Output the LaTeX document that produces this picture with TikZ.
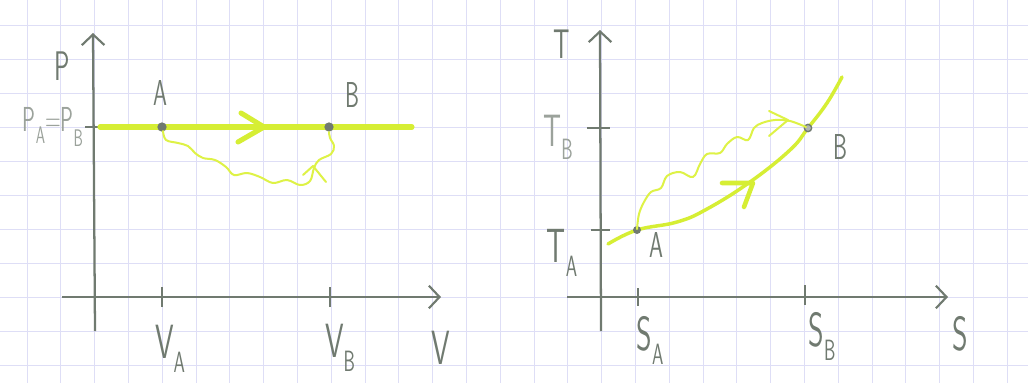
\documentclass[tikz,border=0pt]{standalone}
\usepackage{fontspec}
\usetikzlibrary{arrows.meta}
\definecolor{pencil}{RGB}{112,122,112}
\definecolor{pencillt}{RGB}{155,162,155}
\definecolor{hl}{RGB}{214,238,52}
\definecolor{hlw}{RGB}{222,242,70}
\definecolor{gridc}{RGB}{222,222,246}
\newcommand{\hw}[1]{\scalebox{0.62}[1]{#1}}
\newcommand{\hsub}[1]{\raisebox{-0.3em}{\fontsize{22}{22}\selectfont #1}}
\tikzset{
  gridline/.style={draw=gridc, line width=0.7pt},
  axisline/.style={draw=pencil, line width=1.7pt, -{Straight Barb[length=8pt,width=17pt,line width=1.6pt]}},
  tickline/.style={draw=pencil, line width=1.6pt},
  hlline/.style={draw=hl, line width=3.8pt, line cap=round, line join=round},
  hlcurve/.style={draw=hl, line width=2.6pt, line cap=round, line join=round},
  wavy/.style={draw=hlw, line width=1.5pt, line cap=round, line join=round},
  dotnode/.style={circle, fill=pencil, inner sep=0pt, minimum size=7pt},
  ringnode/.style={circle, draw=pencil, fill=pencil!55, line width=1pt, inner sep=0pt, minimum size=5.5pt},
  biglbl/.style={text=pencil, font=\sffamily\fontsize{36}{36}\selectfont, inner sep=0pt, anchor=base},
  midlbl/.style={text=pencil, font=\sffamily\fontsize{31}{31}\selectfont, inner sep=0pt, anchor=base},
  smalllbl/.style={text=pencil, font=\sffamily\fontsize{27}{27}\selectfont, inner sep=0pt, anchor=base},
  ltlbl/.style={text=pencillt, font=\sffamily\fontsize{26}{26}\selectfont, inner sep=0pt, anchor=base},
  ltbiglbl/.style={text=pencillt, font=\sffamily\fontsize{34}{34}\selectfont, inner sep=0pt, anchor=base},
}
\begin{document}
\begin{tikzpicture}[x=0.75pt,y=-0.75pt]
\useasboundingbox (0,0) rectangle (1028,383);
\fill[white] (0,0) rectangle (1028,383);
% squared paper
\foreach \i in {0,...,29} \draw[gridline] ({27+33.8*\i},0) -- ({27+33.8*\i},383);
\foreach \j in {0,...,10} \draw[gridline] (0,{25+34*\j}) -- (1028,{25+34*\j});

% ================= left: P-V diagram =================
\coordinate (Pbot) at (95,331);
\coordinate (Ptip) at (93,33);
\coordinate (Vstart) at (62,297);
\coordinate (Vtip) at (441,297);
\draw[axisline] (Pbot) -- (Ptip);
\draw[axisline] (Vstart) -- (Vtip);
\coordinate (VAt) at (162,297);
\coordinate (VBt) at (330,297);
\coordinate (Pt) at (95,127);
\draw[tickline] (VAt) ++(0,-10) -- ++(0,20);
\draw[tickline] (VBt) ++(0,-10) -- ++(0,20);
\draw[tickline] (Pt) ++(-10,0) -- ++(15,0);

% isobaric line
\coordinate (L1) at (100,127);
\coordinate (L2) at (412,127);
\draw[hlline] (L1) -- (L2);
\coordinate (chevL) at (264,127);
\draw[hlline] (chevL) ++(-23,-14) -- (chevL) -- ++(-26,15);

% irreversible path
\node[dotnode] (A1) at (162,127) {};
\node[dotnode] (B1) at (329,127) {};
\draw[wavy] plot[smooth, tension=0.6] coordinates {(163,131) (166,140) (178,143) (188,146) (195,153) (203,158) (215,160) (226,167) (234,175) (247,173) (260,177) (273,183) (287,180) (300,185) (310,181) (314,168) (319,160) (331,154) (334,146) (330,138) (329,132)};
\coordinate (chevW1) at (313,166);
\draw[wavy] (chevW1) ++(-10,9) -- (chevW1) -- ++(13,16);

% labels
\node[midlbl] (Plbl) at (62,80) {\hw{P}};
\node[smalllbl] (A1lbl) at (160,105) {\hw{A}};
\node[smalllbl] (B1lbl) at (352,107) {\hw{B}};
\node[ltlbl] (PAPB) at (53,131) {\hw{P\raisebox{-0.35em}{\fontsize{18}{18}\selectfont A}=P\raisebox{-0.45em}{\fontsize{18}{18}\selectfont B}}};
\node[biglbl] (VAlbl) at (170,358) {\hw{V\hsub{A}}};
\node[biglbl] (VBlbl) at (340,357) {\hw{V\hsub{B}}};
\node[biglbl] (Vlbl) at (441,364) {\hw{V}};

% ================= right: T-S diagram =================
\coordinate (Tbot) at (601,331);
\coordinate (Ttip) at (600,30);
\coordinate (Sstart) at (567,297);
\coordinate (Stip) at (948,297);
\draw[axisline] (Tbot) -- (Ttip);
\draw[axisline] (Sstart) -- (Stip);
\coordinate (TBt) at (601,128);
\coordinate (TAt) at (601,230);
\coordinate (SAt) at (638,297);
\coordinate (SBt) at (805,297);
\draw[tickline] (TBt) ++(-14,0) -- ++(23,0);
\draw[tickline] (TAt) ++(-10,0) -- ++(19,0);
\draw[tickline] (SAt) ++(0,-9) -- ++(0,18);
\draw[tickline] (SBt) ++(0,-12) -- ++(0,20);

% reversible curve
\draw[hlcurve] plot[smooth, tension=0.7] coordinates {(608,244) (637,230) (677,222) (707,209) (750,182) (790,150) (808,128) (827,103) (842,77)};
\coordinate (chevC) at (753,183);
\draw[hlcurve, line width=3.4pt] (chevC) ++(-31,0) -- (chevC) -- ++(-9,24);

% irreversible path
\node[dotnode, minimum size=6pt] (A2) at (637,230) {};
\node[ringnode] (B2) at (808,128) {};
\draw[wavy] plot[smooth, tension=0.6] coordinates {(637,229) (639,214) (644,202) (651,192) (661,188) (667,176) (680,172) (693,177) (700,164) (707,154) (720,153) (727,144) (737,137) (748,140) (754,128) (762,123) (775,120) (790,121) (806,127)};
\coordinate (chevW2) at (788,120);
\draw[wavy] (chevW2) ++(-19,-9) -- (chevW2) -- ++(-19,16);

% labels
\node[midlbl] (Tlbl) at (562,58) {\hw{T}};
\node[ltbiglbl] (TBlbl) at (558,146) {\hw{T\hsub{B}}};
\node[biglbl] (TAlbl) at (562,262) {\hw{T\hsub{A}}};
\node[smalllbl] (A2lbl) at (656,257) {\hw{A}};
\node[smalllbl] (B2lbl) at (840,159) {\hw{B}};
\node[biglbl] (SAlbl) at (650,350) {\hw{S\hsub{A}}};
\node[biglbl] (SBlbl) at (822,346) {\hw{S\hsub{B}}};
\node[biglbl] (Slbl) at (960,350) {\hw{S}};
\end{tikzpicture}
\end{document}
